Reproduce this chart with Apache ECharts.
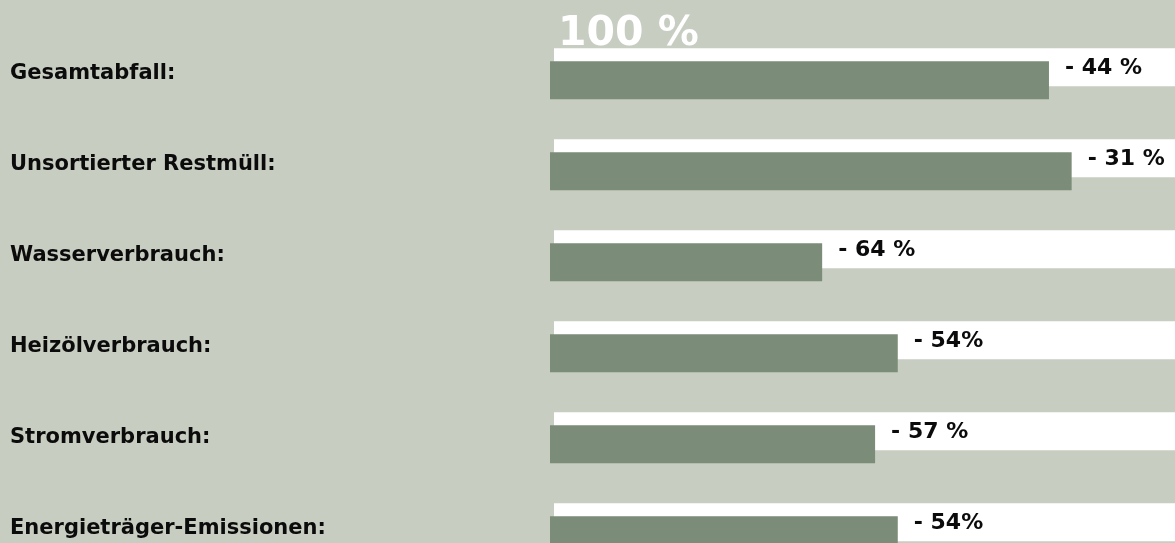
<!DOCTYPE html>
<html>
<head>
<meta charset="utf-8">
<script src="https://cdn.jsdelivr.net/npm/echarts@6/dist/echarts.min.js"></script>
<style>
html,body{margin:0;padding:0;background:#c7cdc1;overflow:hidden;}
#chart{width:1175px;height:600px;}
</style>
</head>
<body>
<div id="chart"></div>
<script>
// Data
var categories = ["Gesamtabfall:", "Unsortierter Restmüll:", "Wasserverbrauch:", "Heizölverbrauch:", "Stromverbrauch:", "Energieträger-Emissionen:"];
var referenceValues = [100, 100, 100, 100, 100, 100];      // white bars = 100 %
var remainingValues = [66, 69, 36, 46, 43, 46];            // green bars, lengths as drawn
var changeLabels = ["- 44 %", "- 31 %", "- 64 %", "- 54%", "- 57 %", "- 54%"];
var referenceLabel = "100 %";

var chart = echarts.init(document.getElementById('chart'), null, {renderer: 'canvas'});
var FONT = 'DejaVu Sans';

var option = {
  backgroundColor: '#c7cdc1',
  animation: false,
  title: {
    text: referenceLabel,
    left: 553,
    top: 9,
    textStyle: {color: '#ffffff', fontFamily: FONT, fontWeight: 'bold', fontSize: 41, lineHeight: 41}
  },
  grid: {left: 550, width: 625, top: 28.3, height: 546, containLabel: false},
  xAxis: {
    type: 'value', min: 0, max: 82.67,
    show: false
  },
  yAxis: {
    type: 'category', inverse: true, data: categories,
    axisLine: {show: false}, axisTick: {show: false}, splitLine: {show: false},
    axisLabel: {
      align: 'left', margin: 540, color: '#0b0b0b',
      fontFamily: FONT, fontWeight: 'bold', fontSize: 21,
      padding: [0, 0, 10, 0]
    }
  },
  series: [
    {
      type: 'bar', stack: 'ref', barWidth: 38, barGap: '-65.8%',
      silent: true,
      itemStyle: {color: 'rgba(0,0,0,0)'},
      data: categories.map(function(){ return 0.53; })
    },
    {
      type: 'bar', stack: 'ref', barWidth: 38, barGap: '-65.8%',
      silent: true,
      itemStyle: {color: '#ffffff'},
      data: referenceValues
    },
    {
      type: 'bar', stack: 'rem', barWidth: 38, barGap: '-65.8%',
      silent: true,
      itemStyle: {color: '#7b8d78'},
      label: {
        show: true, position: 'right', distance: 16, offset: [0, -12],
        color: '#0b0b0b', fontFamily: FONT, fontWeight: 'bold', fontSize: 22,
        formatter: function(p){ return changeLabels[p.dataIndex]; }
      },
      data: remainingValues
    }
  ]
};
chart.setOption(option);
</script>
</body>
</html>
